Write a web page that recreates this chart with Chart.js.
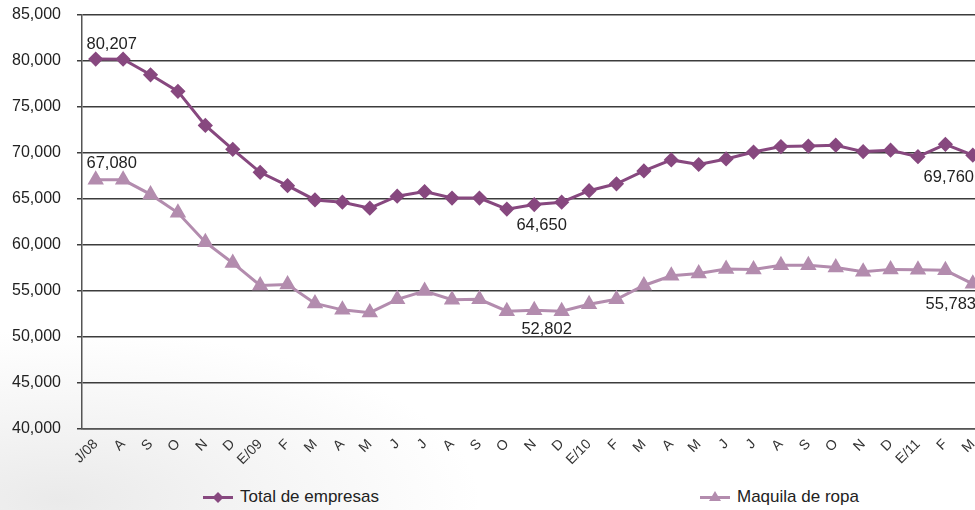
<!DOCTYPE html>
<html>
<head>
<meta charset="utf-8">
<script src="https://cdn.jsdelivr.net/npm/chart.js@4/dist/chart.umd.min.js"></script>
<style>
  html, body { margin: 0; padding: 0; width: 975px; height: 510px; overflow: hidden; }
  body {
    background: radial-gradient(ellipse 420px 170px at 60px 500px, #eaeaea 0%, #f5f5f5 50%, #ffffff 100%);
    font-family: "Liberation Sans", Arial, sans-serif;
  }
  #chart { position: absolute; left: 0; top: 0; }
  .legend-item { position: absolute; top: 486px; height: 22px; display: flex; align-items: center; font-size: 17px; color: #222; }
  .legend-item svg { margin-right: 7px; }
</style>
</head>
<body>
<canvas id="chart" width="996" height="472"></canvas>
<div id="legend"></div>
<script>
// data
const months = ["J/08","A","S","O","N","D","E/09","F","M","A","M","J","J","A","S","O","N","D",
                "E/10","F","M","A","M","J","J","A","S","O","N","D","E/11","F","M"];
const totalEmpresas = [80207, 80200, 78500, 76700, 73000, 70400, 67900, 66450, 64900, 64650, 64000,
                       65300, 65800, 65100, 65100, 63900, 64400, 64650, 65900, 66650, 68050, 69250,
                       68750, 69350, 70100, 70700, 70750, 70850, 70150, 70300, 69600, 70950, 69760];
const maquilaRopa = [67080, 67080, 65500, 63500, 60300, 58050, 55600, 55700, 53650, 52950, 52650,
                     54100, 55000, 54050, 54100, 52800, 52900, 52802, 53550, 54100, 55600, 56650,
                     56900, 57400, 57350, 57800, 57800, 57550, 57100, 57350, 57300, 57250, 55783];
const yTicks = [40000, 45000, 50000, 55000, 60000, 65000, 70000, 75000, 80000, 85000];

const colTotal = "#87487f";
const colMaquila = "#b38cae";

// value labels: dataset, index, offset
const valueLabels = [
  { ds: 0, i: 0, dx: 16, dy: -15 },
  { ds: 1, i: 0, dx: 16, dy: -16 },
  { ds: 0, i: 17, dx: -20, dy: 23 },
  { ds: 1, i: 17, dx: -15, dy: 18 },
  { ds: 0, i: 32, dx: -24, dy: 22 },
  { ds: 1, i: 32, dx: -22, dy: 21 }
];

const labelPlugin = {
  id: "valueLabels",
  afterDatasetsDraw(chart) {
    const ctx = chart.ctx;
    ctx.save();
    ctx.font = "16.5px 'Liberation Sans', Arial, sans-serif";
    ctx.fillStyle = "#222";
    ctx.textAlign = "center";
    ctx.textBaseline = "middle";
    valueLabels.forEach(l => {
      const pt = chart.getDatasetMeta(l.ds).data[l.i];
      const v = chart.data.datasets[l.ds].data[l.i];
      ctx.fillText(v.toLocaleString("en-US"), pt.x + l.dx, pt.y + l.dy);
    });
    ctx.restore();
  }
};

const chart = new Chart(document.getElementById("chart"), {
  type: "line",
  data: {
    labels: months,
    datasets: [
      { label: "Total de empresas", data: totalEmpresas, borderColor: colTotal, backgroundColor: colTotal,
        borderWidth: 3, pointStyle: "rectRot", pointRadius: 5.5, pointHoverRadius: 5.5, tension: 0 },
      { label: "Maquila de ropa", data: maquilaRopa, borderColor: colMaquila, backgroundColor: colMaquila,
        borderWidth: 3, pointStyle: "triangle", pointRadius: 6.5, pointHoverRadius: 6.5, tension: 0 }
    ]
  },
  options: {
    responsive: false,
    animation: false,
    layout: { padding: { top: 15, right: 0, left: 0, bottom: 0 } },
    plugins: { legend: { display: false }, tooltip: { enabled: false } },
    scales: {
      x: {
        offset: true,
        grid: { display: false, drawTicks: false },
        border: { color: "#555", width: 1.5 },
        ticks: { autoSkip: false, maxRotation: 45, minRotation: 45, padding: 7,
                 color: "#333", font: { family: "'Liberation Sans', Arial, sans-serif", size: 14 } },
        afterFit: s => { s.height = 472 - 429; s.paddingLeft = 0; s.paddingRight = 0; }
      },
      y: {
        min: 40000, max: 85000,
        afterBuildTicks: s => { s.ticks = yTicks.map(v => ({ value: v })); },
        grid: { color: "#3c3c3c", lineWidth: 1.5, tickLength: 5 },
        border: { color: "#555", width: 1.5 },
        ticks: { padding: 16, color: "#222", callback: v => v.toLocaleString("en-US"),
                 font: { family: "'Liberation Sans', Arial, sans-serif", size: 16 } },
        afterFit: s => { s.width = 82; s.paddingTop = 0; s.paddingBottom = 0; }
      }
    }
  },
  plugins: [labelPlugin]
});

// legend
const legend = document.getElementById("legend");
const legendPos = [203, 700];
chart.data.datasets.forEach((ds, k) => {
  const item = document.createElement("div");
  item.className = "legend-item";
  item.style.left = legendPos[k] + "px";
  const marker = k === 0
    ? `<polygon points="15,5 20.5,10.5 15,16 9.5,10.5" fill="${ds.borderColor}"/>`
    : `<polygon points="15,4 21,14 9,14" fill="${ds.borderColor}"/>`;
  item.innerHTML = `<svg width="30" height="21"><line x1="0" y1="10.5" x2="30" y2="10.5" stroke="${ds.borderColor}" stroke-width="3"/>${marker}</svg><span>${ds.label}</span>`;
  legend.appendChild(item);
});
</script>
</body>
</html>
